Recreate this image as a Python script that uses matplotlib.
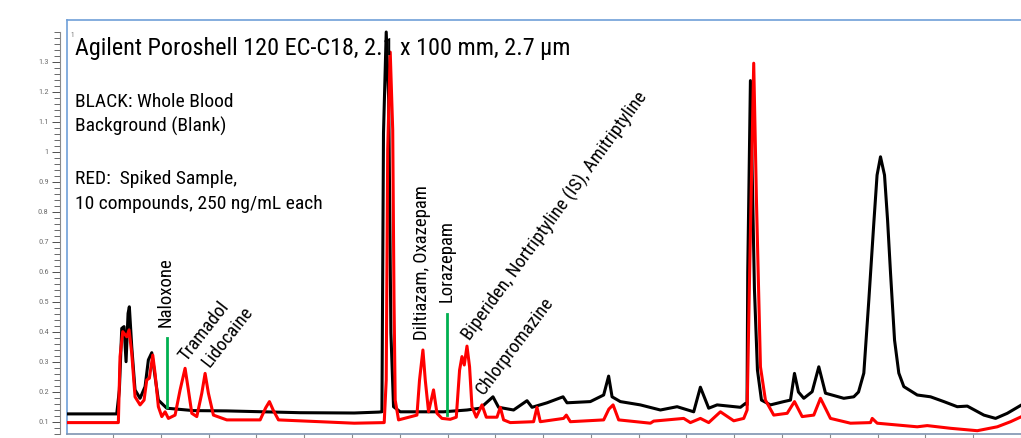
import matplotlib
matplotlib.use("Agg")
import matplotlib.pyplot as plt
from matplotlib import font_manager
from matplotlib.ticker import MultipleLocator, FixedLocator, FuncFormatter

# the original uses a condensed sans; take one if the box has it
installed = {f.name for f in font_manager.fontManager.ttflist}
narrow = [n for n in ["Roboto Condensed", "Liberation Sans Narrow", "Noto Sans Condensed",
                      "Open Sans Condensed"] if n in installed]
if narrow:
    plt.rcParams["font.family"] = [narrow[0], "DejaVu Sans"]
    fs_title, fs_body, fs_peak = 17.4, 14, 13.5
else:
    plt.rcParams["font.family"] = ["Roboto", "DejaVu Sans"]
    fs_title, fs_body, fs_peak = 15, 12.5, 11.5

# retention time (min) / absorbance
black_t = [0.04, 1.078, 1.133, 1.183, 1.231, 1.273, 1.315, 1.342, 1.392, 1.461,
           1.566, 1.671, 1.740, 1.811, 1.880, 1.949, 2.125, 2.682, 3.381, 4.916,
           6.047, 6.556, 6.627, 6.660, 6.717, 6.769, 6.815, 6.870, 7.010, 7.917,
           8.407, 8.685, 8.951, 9.068, 9.382, 9.663, 9.768, 10.082, 10.417, 10.500,
           10.988, 11.267, 11.371, 11.443, 11.616, 12.035, 12.454, 12.804, 13.151, 13.291,
           13.465, 13.641, 14.129, 14.234, 14.267, 14.282, 14.338, 14.422, 14.485, 14.569,
           14.757, 15.036, 15.176, 15.260, 15.343, 15.455, 15.630, 15.769, 15.909, 16.292,
           16.501, 16.600, 16.711, 16.816, 16.920, 16.988, 17.060, 17.144, 17.208, 17.270,
           17.354, 17.443, 17.548, 17.829, 18.107, 18.386, 18.666, 18.876, 19.223, 19.468,
           19.713, 20.012]
black_y = [0.126, 0.126, 0.206, 0.411, 0.417, 0.300, 0.461, 0.483, 0.350, 0.206,
           0.178, 0.217, 0.306, 0.330, 0.250, 0.172, 0.145, 0.137, 0.136, 0.130,
           0.129, 0.132, 0.133, 1.062, 1.399, 1.172, 0.396, 0.150, 0.133, 0.133,
           0.139, 0.145, 0.183, 0.148, 0.139, 0.170, 0.148, 0.163, 0.183, 0.163,
           0.167, 0.189, 0.252, 0.183, 0.167, 0.156, 0.139, 0.150, 0.133, 0.215,
           0.145, 0.156, 0.148, 0.161, 0.156, 0.599, 1.237, 0.542, 0.272, 0.172,
           0.156, 0.167, 0.172, 0.261, 0.199, 0.178, 0.200, 0.283, 0.195, 0.178,
           0.183, 0.199, 0.262, 0.506, 0.762, 0.922, 0.983, 0.922, 0.772, 0.595,
           0.372, 0.262, 0.217, 0.189, 0.183, 0.167, 0.150, 0.152, 0.122, 0.111,
           0.128, 0.156]

red_t = [0.04, 1.112, 1.147, 1.204, 1.288, 1.336, 1.392, 1.461, 1.566, 1.650,
         1.706, 1.761, 1.832, 1.880, 1.949, 2.021, 2.090, 2.159, 2.299, 2.404,
         2.508, 2.577, 2.649, 2.753, 2.858, 2.927, 2.996, 3.101, 3.381, 4.079,
         4.194, 4.273, 4.351, 4.462, 6.047, 6.675, 6.717, 6.748, 6.801, 6.853,
         6.880, 6.905, 6.975, 7.360, 7.414, 7.485, 7.534, 7.603, 7.707, 7.779,
         7.883, 8.057, 8.183, 8.252, 8.302, 8.350, 8.407, 8.461, 8.511, 8.601,
         8.721, 8.811, 9.035, 9.104, 9.173, 9.313, 9.801, 9.872, 9.941, 10.429,
         10.486, 10.570, 11.267, 11.376, 11.464, 11.581, 12.245, 12.314, 12.942, 13.082,
         13.291, 13.465, 13.710, 13.989, 14.198, 14.269, 14.324, 14.407, 14.464, 14.548,
         14.652, 14.826, 15.107, 15.260, 15.421, 15.664, 15.804, 16.013, 16.432, 16.851,
         16.887, 16.991, 17.829, 18.038, 18.526, 19.085, 19.504, 19.782, 20.012]
red_y = [0.097, 0.097, 0.317, 0.400, 0.383, 0.406, 0.328, 0.183, 0.156, 0.172,
         0.239, 0.245, 0.322, 0.261, 0.150, 0.117, 0.133, 0.111, 0.122, 0.206,
         0.278, 0.206, 0.128, 0.117, 0.195, 0.261, 0.195, 0.122, 0.106, 0.106,
         0.146, 0.167, 0.139, 0.106, 0.095, 0.097, 0.239, 1.006, 1.332, 1.072,
         0.506, 0.172, 0.106, 0.122, 0.239, 0.339, 0.239, 0.133, 0.206, 0.128,
         0.111, 0.108, 0.115, 0.272, 0.317, 0.289, 0.352, 0.283, 0.150, 0.115,
         0.156, 0.115, 0.115, 0.148, 0.106, 0.097, 0.100, 0.148, 0.100, 0.111,
         0.122, 0.100, 0.106, 0.142, 0.156, 0.106, 0.095, 0.102, 0.111, 0.097,
         0.111, 0.097, 0.133, 0.103, 0.111, 0.139, 0.617, 1.295, 0.839, 0.283,
         0.172, 0.122, 0.128, 0.167, 0.117, 0.122, 0.178, 0.111, 0.095, 0.097,
         0.111, 0.095, 0.083, 0.087, 0.078, 0.070, 0.083, 0.100, 0.117]

peak_names = ["Naloxone", "Tramadol", "Lidocaine", "Diltiazam, Oxazepam", "Lorazepam",
              "Biperiden, Nortriptyline (IS), Amitriptyline", "Chlorpromazine"]
peak_t = [2.106, 2.53, 3.03, 7.460, 7.980, 8.476, 8.748]
peak_y = [0.417, 0.299, 0.279, 0.372, 0.500, 0.366, 0.186]
peak_rot = [90, 52, 52, 90, 90, 54, 53]

# green markers (time, y-from, y-to)
marker_t = [2.138, 7.988]
marker_y0 = [0.148, 0.122]
marker_y1 = [0.378, 0.458]

fig = plt.figure(figsize=(10.21, 4.38), dpi=100)
ax = fig.add_axes([66.7 / 1021, 4 / 438, (1021 - 66.7) / 1021, 414 / 438])

ax.plot(black_t, black_y, color="black", lw=2.2, solid_joinstyle="round", zorder=3)
ax.plot(red_t, red_y, color="#ff0000", lw=2.2, solid_joinstyle="round", zorder=4)

for t, y0, y1 in zip(marker_t, marker_y0, marker_y1):
    ax.plot([t, t], [y0, y1], color="#00b050", lw=2.0, zorder=5)

for name, t, y, rot in zip(peak_names, peak_t, peak_y, peak_rot):
    if rot == 90:
        ax.text(t, y, name, rotation=90, ha="center", va="bottom", fontsize=fs_peak, zorder=6)
    else:
        ax.text(t, y, name, rotation=rot, rotation_mode="anchor", ha="left", va="baseline",
                fontsize=fs_peak, zorder=6)

ax.set_xlim(0.031, 20.0)
ax.set_ylim(0.059, 1.439)

# axes styling
ax.xaxis.set_major_locator(MultipleLocator(1))
ax.tick_params(axis="x", direction="out", length=4, width=0.8, color="#8a8a8a", labelbottom=False)
ax.yaxis.set_major_locator(FixedLocator([i / 10 for i in range(1, 14)]))
ax.yaxis.set_minor_locator(FixedLocator([i / 50 for i in range(3, 71)]))
ax.yaxis.set_major_formatter(FuncFormatter(lambda v, p: "%g" % round(v, 2)))
ax.tick_params(axis="y", which="major", direction="out", length=6, width=0.7, color="#505050",
               labelsize=6, labelcolor="#707070", pad=2)
ax.tick_params(axis="y", which="minor", direction="out", length=4, width=0.6, color="#505050")

ax.spines["left"].set_position(("outward", 5))
ax.spines["left"].set_bounds(0.06, 1.40)
ax.spines["left"].set_color("#8a8a8a")
ax.spines["left"].set_linewidth(0.8)
ax.spines["right"].set_visible(False)
ax.spines["top"].set_color("#6f9fd8")
ax.spines["top"].set_linewidth(1.2)
ax.spines["bottom"].set_color("#7f93b0")
ax.spines["bottom"].set_linewidth(1.2)
ax.plot([0, 0], [0, 1], transform=ax.transAxes, color="#6f9fd8", lw=1.2, clip_on=False)

# header text
fig.text(75 / 1021, 1 - 55 / 438, "Agilent Poroshell 120 EC-C18, 2.1 x 100 mm, 2.7 µm",
         fontsize=fs_title, va="baseline")
fig.text(75 / 1021, 1 - 107 / 438, "BLACK: Whole Blood", fontsize=fs_body, va="baseline")
fig.text(75 / 1021, 1 - 132 / 438, "Background (Blank)", fontsize=fs_body, va="baseline")
fig.text(75 / 1021, 1 - 184 / 438, "RED:  Spiked Sample,", fontsize=fs_body, va="baseline")
fig.text(75 / 1021, 1 - 209 / 438, "10 compounds, 250 ng/mL each", fontsize=fs_body, va="baseline")
fig.text(70 / 1021, 1 - 37 / 438, "1", fontsize=5, color="#707070", va="baseline")

fig.savefig("out.png", dpi=100)
